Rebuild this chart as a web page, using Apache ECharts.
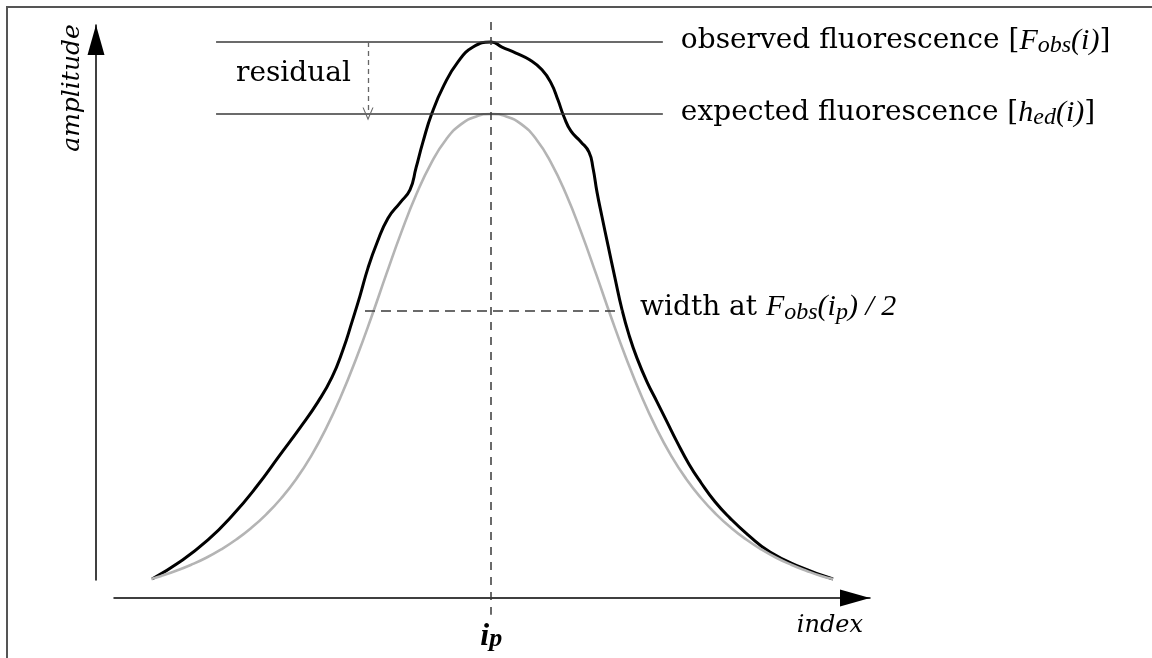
<!DOCTYPE html>
<html>
<head>
<meta charset="utf-8">
<script src="https://cdn.jsdelivr.net/npm/echarts@6/dist/echarts.min.js"></script>
<style>
  html, body { margin: 0; padding: 0; background: #fff; }
  #chart { width: 1152px; height: 658px; }
</style>
</head>
<body>
<div id="chart"></div>
<script>
// Peak profile: observed fluorescence vs. expected (fitted) fluorescence
const indexRange = [0, 100];
const amplitudeRange = [-0.1, 1.2];

const observedIndex = [5.03, 8.73, 12.43, 15.74, 18.92, 21.96, 24.60, 26.98, 28.84, 30.29, 31.48, 32.54, 33.60,
  34.79, 36.24, 37.83, 39.15, 39.95, 40.87, 42.06, 43.65, 45.50, 47.49, 49.90,
  51.32, 53.17, 55.03, 56.61, 57.80, 58.73, 59.52, 60.45, 61.77, 62.83, 63.36, 63.89, 64.55, 65.34, 66.27,
  67.20, 68.12, 69.18, 70.50, 71.83, 73.15, 74.47, 76.06, 77.65, 79.50, 81.48, 83.86, 86.77, 90.74, 95.11];
const observedAmp = [0, 0.037, 0.084, 0.138, 0.200, 0.267, 0.325, 0.381, 0.434, 0.493, 0.553, 0.609, 0.669,
  0.723, 0.776, 0.809, 0.837, 0.884, 0.940, 1.002, 1.062, 1.112, 1.144, 1.155,
  1.144, 1.131, 1.116, 1.095, 1.067, 1.030, 0.994, 0.963, 0.940, 0.918, 0.884, 0.832, 0.779, 0.718, 0.647,
  0.579, 0.525, 0.475, 0.424, 0.381, 0.338, 0.295, 0.247, 0.207, 0.166, 0.131, 0.095, 0.058, 0.026, 0];

const expectedIndex = [4.93, 6.25, 8.23, 10.22, 12.20, 14.19, 16.17, 18.15, 20.14, 22.12, 24.11, 26.09, 28.07,
  30.06, 32.04, 34.03, 36.01, 38.00, 39.98, 41.96, 43.95, 45.93, 47.92, 49.90,
  51.88, 53.87, 55.85, 57.84, 59.82, 61.80, 63.79, 65.77, 67.76, 69.74, 71.73, 73.71, 75.69, 77.68, 79.66,
  81.65, 83.63, 85.61, 87.60, 89.58, 91.57, 93.55, 95.11];
const expectedAmp = [0, 0.0065, 0.0178, 0.0307, 0.0457, 0.0638, 0.0849, 0.1097, 0.1391, 0.1737, 0.2152, 0.2649,
  0.3244, 0.3944, 0.4743, 0.5624, 0.6550, 0.7454, 0.8268, 0.8946, 0.9458, 0.9782, 0.9947, 1.0,
  0.9947, 0.9782, 0.9458, 0.8946, 0.8268, 0.7454, 0.6550, 0.5624, 0.4743, 0.3944, 0.3244, 0.2649, 0.2152,
  0.1737, 0.1391, 0.1097, 0.0849, 0.0638, 0.0457, 0.0307, 0.0178, 0.0065, 0];

const peakIndex = 49.9;               // i_p
const observedPeak = 1.155;           // F_obs(i_p)
const expectedPeak = 1.0;             // h_ed(i_p)
const halfWidthBounds = [33.2, 67.2]; // width of F_obs at F_obs(i_p) / 2
const levelLineSpan = [13.5, 72.6];
const residualIndex = 33.6;
const peakLineSpan = [1.198, -0.077];

const ink = '#3a3a3a';
const roman = 'DejaVu Serif';
const mathFont = 'Liberation Serif';

const rich = {
  r: { fontFamily: roman, fontSize: 28, lineHeight: 34, color: '#000' },
  m: { fontFamily: mathFont, fontStyle: 'italic', fontSize: 30, lineHeight: 34, color: '#000' },
  s: { fontFamily: mathFont, fontStyle: 'italic', fontSize: 24, lineHeight: 20, verticalAlign: 'bottom', color: '#000' }
};

// open "V" arrow head, pointing up before rotation along the line
const openHead = 'path://M0,10 L5,0 L10,10 L9,10 L5,2.2 L1,10 Z';

const toPairs = (xs, ys) => xs.map((x, i) => [x, ys[i]]);

const chart = echarts.init(document.getElementById('chart'), null, { renderer: 'canvas' });

chart.setOption({
  animation: false,
  backgroundColor: '#fff',
  grid: [
    { left: 114, right: 282, top: 21, bottom: 32.5 },   // plotting area
    { left: 114, right: 282, top: 500, bottom: 60 },    // index axis
    { left: 96, width: 100, top: 25, bottom: 78 }       // amplitude axis
  ],
  xAxis: [
    { gridIndex: 0, type: 'value', min: indexRange[0], max: indexRange[1], show: false },
    {
      gridIndex: 1, type: 'value', min: indexRange[0], max: indexRange[1],
      axisLine: { show: true, lineStyle: { color: '#000', width: 1.5 },
        symbol: ['none', 'triangle'], symbolSize: [17, 30], symbolOffset: [0, -15] },
      axisTick: { show: false },
      splitLine: { show: false },
      axisLabel: {
        show: true, customValues: [peakIndex], margin: 24,
        formatter: () => '{i|i}{p|p}',
        rich: {
          i: { fontFamily: mathFont, fontStyle: 'italic', fontWeight: 'bold', fontSize: 32, lineHeight: 30, color: '#000' },
          p: { fontFamily: mathFont, fontStyle: 'italic', fontWeight: 'bold', fontSize: 26, lineHeight: 9, verticalAlign: 'bottom', color: '#000' }
        }
      }
    },
    { gridIndex: 2, type: 'value', show: false }
  ],
  yAxis: [
    { gridIndex: 0, type: 'value', min: amplitudeRange[0], max: amplitudeRange[1], show: false },
    { gridIndex: 1, type: 'value', show: false },
    {
      gridIndex: 2, type: 'value', min: 0, max: 1,
      axisLine: { show: true, lineStyle: { color: '#000', width: 1.5 },
        symbol: ['none', 'triangle'], symbolSize: [17, 30], symbolOffset: [0, -15] },
      axisTick: { show: false }, axisLabel: { show: false }, splitLine: { show: false }
    }
  ],
  series: [
    {
      name: 'observed', type: 'line', xAxisIndex: 0, yAxisIndex: 0,
      data: toPairs(observedIndex, observedAmp),
      smooth: 0.5, showSymbol: false, clip: false, z: 3,
      lineStyle: { color: '#000', width: 3 },
      markLine: {
        silent: true, symbol: ['none', 'none'], animation: false,
        data: [
          [
            { coord: [levelLineSpan[0], observedPeak], lineStyle: { color: ink, width: 1.5, type: 'solid' },
              label: { show: true, position: 'end', distance: 18, offset: [0, -1],
                formatter: '{r|observed fluorescence [}{m|F}{s|obs}{m|(i)}{r|]}', rich } },
            { coord: [levelLineSpan[1], observedPeak] }
          ],
          [
            { coord: [levelLineSpan[0], expectedPeak], lineStyle: { color: ink, width: 1.5, type: 'solid' },
              label: { show: true, position: 'end', distance: 18, offset: [0, -1],
                formatter: '{r|expected fluorescence [}{m|h}{s|ed}{m|(i)}{r|]}', rich } },
            { coord: [levelLineSpan[1], expectedPeak] }
          ],
          [
            { coord: [peakIndex, peakLineSpan[0]], lineStyle: { color: ink, width: 1.5, type: [8, 7] },
              label: { show: false } },
            { coord: [peakIndex, peakLineSpan[1]] }
          ],
          [
            { coord: [halfWidthBounds[0], observedPeak / 2], lineStyle: { color: ink, width: 1.5, type: [10, 6] },
              label: { show: true, position: 'end', distance: 18, offset: [0, -3],
                formatter: '{r|width at }{m|F}{s|obs}{m|(i}{s|p}{m|) / 2}', rich } },
            { coord: [halfWidthBounds[1], observedPeak / 2] }
          ],
          [
            { coord: [residualIndex, observedPeak], symbol: 'none',
              lineStyle: { color: '#666', width: 1.3, type: [5, 4] }, label: { show: false } },
            { coord: [residualIndex, expectedPeak], symbol: openHead, symbolSize: [11, 13] }
          ]
        ]
      }
    },
    {
      name: 'expected', type: 'line', xAxisIndex: 0, yAxisIndex: 0,
      data: toPairs(expectedIndex, expectedAmp),
      smooth: 0.5, showSymbol: false, clip: false, z: 4,
      lineStyle: { color: '#b4b4b4', width: 2.6 }
    }
  ],
  graphic: [
    { type: 'rect', silent: true, shape: { x: 7, y: 7, width: 1170, height: 680 },
      style: { fill: 'none', stroke: '#555', lineWidth: 2 } },
    { type: 'text', silent: true, x: 72, y: 88, rotation: Math.PI / 2,
      style: { text: 'amplitude', fontFamily: roman, fontStyle: 'italic', fontSize: 25,
        fill: '#000', align: 'center', verticalAlign: 'middle' } },
    { type: 'text', silent: true, x: 863, y: 626,
      style: { text: 'index', fontFamily: roman, fontStyle: 'italic', fontSize: 24,
        fill: '#000', align: 'right', verticalAlign: 'middle' } },
    { type: 'text', silent: true, x: 236, y: 74,
      style: { text: 'residual', fontFamily: roman, fontSize: 28,
        fill: '#000', align: 'left', verticalAlign: 'middle' } }
  ]
});
</script>
</body>
</html>
